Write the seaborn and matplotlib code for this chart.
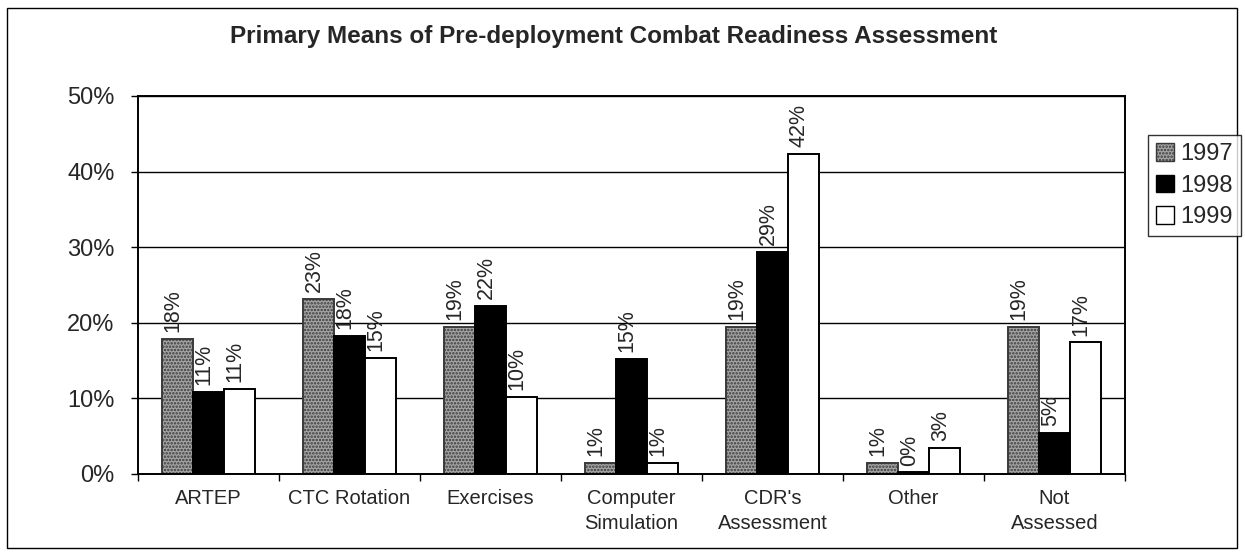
import matplotlib
matplotlib.use("Agg")
import matplotlib.pyplot as plt
import matplotlib.patches as mpatches
import pandas as pd
import seaborn as sns

# chart data (percent)
categories = ["ARTEP", "CTC Rotation", "Exercises", "Computer\nSimulation",
              "CDR's\nAssessment", "Other", "Not\nAssessed"]
years = ["1997", "1998", "1999"]
v1997 = [17.9, 23.1, 19.4, 1.4, 19.4, 1.4, 19.4]
v1998 = [10.9, 18.2, 22.2, 15.2, 29.4, 0.2, 5.4]
v1999 = [11.2, 15.4, 10.2, 1.4, 42.3, 3.4, 17.4]
yticks = [0, 10, 20, 30, 40, 50]

df = pd.DataFrame({
    "category": categories * 3,
    "year": [y for y in years for _ in categories],
    "value": v1997 + v1998 + v1999,
})

sns.set_theme(style="white")
plt.rcParams["font.family"] = ["Liberation Sans", "DejaVu Sans"]
plt.rcParams["hatch.linewidth"] = 1.2

fig = plt.figure(figsize=(12.45, 5.56), dpi=100)
ax = fig.add_axes([138 / 1245, 1 - 474 / 556, (1125 - 138) / 1245, (474 - 96) / 556])

palette = {"1997": "#a4a4a4", "1998": "#000000", "1999": "#ffffff"}
sns.barplot(data=df, x="category", y="value", hue="year", palette=palette,
            width=0.66, edgecolor="black", linewidth=1.4, saturation=1,
            ax=ax, legend=False)

# stippled look for 1997
for bar in ax.containers[0]:
    bar.set_hatch(".....")
    bar.set_edgecolor("#3a3a3a")

for cont, vals in zip(ax.containers, [v1997, v1998, v1999]):
    anns = ax.bar_label(cont, labels=[f"{round(v):.0f}%" for v in vals],
                        rotation=90, padding=5, fontsize=15.5)
    for a in anns:
        a.xyann = (-3, 5)

ax.set_ylim(0, 50)
ax.set_xlim(-0.5, len(categories) - 0.5)
ax.set_yticks(yticks)
ax.set_yticklabels([f"{t}%" for t in yticks], fontsize=17)
ax.yaxis.grid(True, color="black", linewidth=1)
ax.set_axisbelow(True)
ax.tick_params(axis="y", left=True, length=5, width=1, color="black", pad=12)
ax.set_xticks(range(len(categories)))
ax.set_xticklabels(categories, fontsize=14.5, va="top", linespacing=1.35)
ax.tick_params(axis="x", length=0, pad=11)
ax.set_xticks([i - 0.5 for i in range(len(categories) + 1)], minor=True)
ax.tick_params(axis="x", which="minor", bottom=True, length=5, width=1, color="black")
ax.set_xlabel("")
ax.set_ylabel("")
for s in ax.spines.values():
    s.set_color("black")
    s.set_linewidth(1.4)

fig.suptitle("Primary Means of Pre-deployment Combat Readiness Assessment",
             x=614 / 1245, y=1 - 37 / 556, va="center",
             fontsize=17.5, fontweight="bold")

handles = [mpatches.Patch(facecolor=palette["1997"], edgecolor="#3a3a3a", hatch=".....", label="1997"),
           mpatches.Patch(facecolor=palette["1998"], edgecolor="black", label="1998"),
           mpatches.Patch(facecolor=palette["1999"], edgecolor="black", label="1999")]
leg = fig.legend(handles=handles, loc="upper left", bbox_to_anchor=(1148 / 1245, 1 - 135 / 556),
                 fontsize=17, frameon=True, fancybox=False, handlelength=0.75,
                 handleheight=0.75, handletextpad=0.25, labelspacing=0.4,
                 borderpad=0.35, borderaxespad=0)
leg.get_frame().set_edgecolor("black")
leg.get_frame().set_linewidth(1)

# outer chart border
fig.patches.append(mpatches.Rectangle((7 / 1245, 8 / 556), (1237 - 7) / 1245, (548 - 8) / 556,
                                      transform=fig.transFigure, fill=False,
                                      edgecolor="black", linewidth=1))

fig.savefig("out.png", dpi=100)
